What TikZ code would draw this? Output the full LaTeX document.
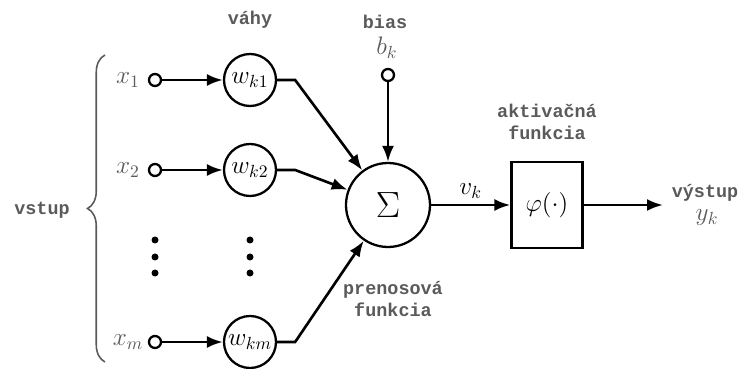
\documentclass[tikz,border=0pt]{standalone}
\usepackage{fontspec}
\setmonofont{Liberation Mono}
\usetikzlibrary{
  positioning,
  arrows.meta,
  decorations.pathreplacing
}
\definecolor{nnGray}{HTML}{5A5A5A}

\begin{document}
\begin{tikzpicture}[
  every node/.style={inner sep=2pt},
  lbl/.style={
    font=\fontsize{10.5}{12.5}\selectfont\ttfamily\bfseries,
    text=nnGray, align=center
  },
  var/.style={font=\Large, text=nnGray},
  tap/.style={
    circle, draw, line width=1.3pt, fill=white,
    minimum size=0.24cm, inner sep=0pt
  },
  weight/.style={
    circle, draw, line width=1.3pt,
    minimum size=1.04cm, inner sep=0pt, font=\Large
  },
  sum/.style={
    circle, draw, line width=1.3pt,
    minimum size=1.68cm, font=\huge
  },
  act/.style={
    rectangle, draw, line width=1.3pt,
    minimum width=1.42cm, minimum height=1.72cm, font=\Large
  },
  arrow/.style={-{Latex[length=3.2mm, width=2.4mm]}, line width=1.5pt}
]
 \useasboundingbox (0,0) rectangle (14.78,7.36);

 % Input side: brace and label
 \draw[line width=0.9pt, nnGray, decorate,
   decoration={brace, amplitude=0.35cm}] (2.1,0.12) -- (2.1,6.26);
 \node[lbl] (vstup) at (0.84,3.16) {vstup};

 % Inputs and weights
 \node[var] (x1) at (2.56,5.76) {$x_1$};
 \node[var] (x2) at (2.56,3.96) {$x_2$};
 \node[var] (xm) at (2.56,0.52) {$x_m$};
 \node[tap] (t1) at (3.1,5.76) {};
 \node[tap] (t2) at (3.1,3.96) {};
 \node[tap] (tm) at (3.1,0.52) {};

 \node[lbl] (vahy) at (5.0,6.96) {váhy};
 \node[weight] (w1) at (5.0,5.76) {$w_{k1}$};
 \node[weight] (w2) at (5.0,3.96) {$w_{k2}$};
 \node[weight] (wm) at (5.0,0.52) {$w_{km}$};

 \draw[arrow] (t1) -- (w1);
 \draw[arrow] (t2) -- (w2);
 \draw[arrow] (tm) -- (wm);

 % Dots between rows
 \foreach \y in {2.56,2.22,1.9} {
   \fill (3.1,\y) circle (0.07);
   \fill (5.0,\y) circle (0.07);
 }

 % Summing junction and bias
 \node[sum] (sig) at (7.76,3.26) {$\Sigma$};
 \node[lbl] (bias) at (7.7,6.92) {bias};
 \node[var] (bk) at (7.74,6.4) {$b_k$};
 \node[tap] (tb) at (7.76,5.86) {};
 \draw[arrow] (tb) -- (sig);

 \draw[arrow] (w1.east) -- ++(0.36,0) -- (sig);
 \draw[arrow] (w2.east) -- ++(0.36,0) -- (sig);
 \draw[arrow] (wm.east) -- ++(0.36,0) -- (sig);

 \node[lbl] (pren) at (7.86,1.38) {prenosová\\funkcia};

 % Activation and output
 \node[act] (phi) at (10.94,3.26) {$\varphi(\cdot)$};
 \node[lbl] (akt) at (10.94,4.93) {aktivačná\\funkcia};
 \draw[arrow] (sig) -- node[above=1pt, font=\Large] (vk) {$v_k$} (phi);

 \coordinate (yend) at (13.26,3.26);
 \draw[arrow] (phi) -- (yend);
 \node[lbl] (vyst) at (14.1,3.5) {výstup};
 \node[var] (yk) at (14.14,3.0) {$y_k$};
\end{tikzpicture}
\end{document}
